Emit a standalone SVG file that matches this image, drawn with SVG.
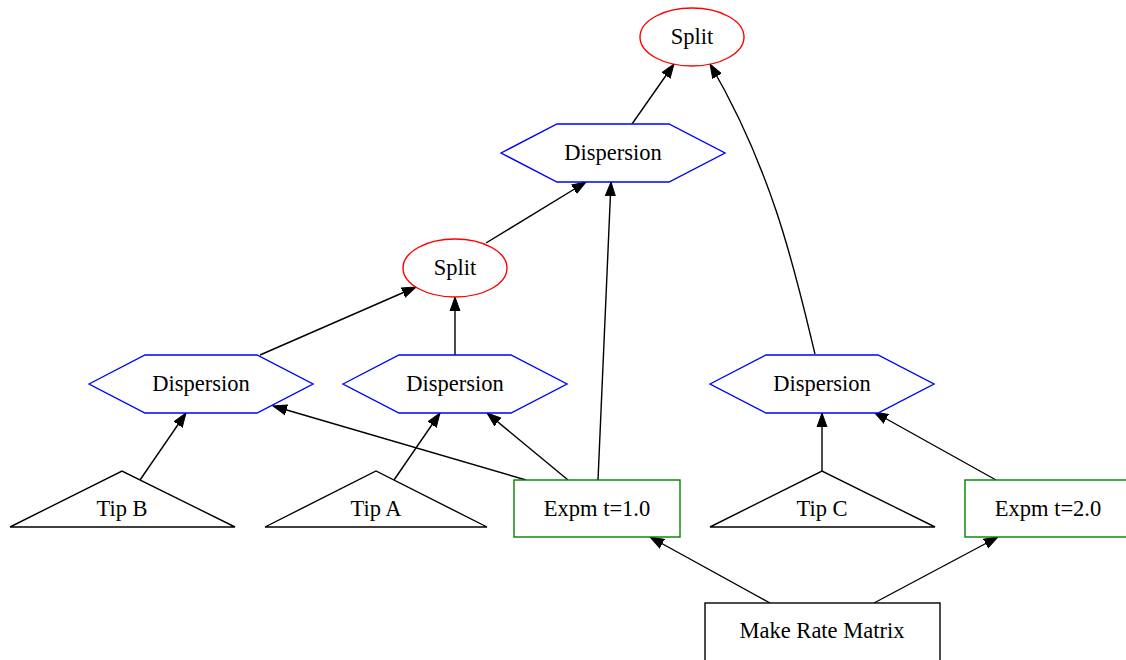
<svg xmlns="http://www.w3.org/2000/svg" width="1126" height="660" viewBox="0 0 1126 660">
<style>
.split{fill:#fff;stroke:#ff0000;stroke-width:1.4}
.disp{fill:#fff;stroke:#0000ff;stroke-width:1.4}
.tip{fill:#fff;stroke:#000;stroke-width:1.4}
.expm{fill:#fff;stroke:#008000;stroke-width:1.4}
.rate{fill:#fff;stroke:#000;stroke-width:1.4}
.edge{fill:none;stroke:#000;stroke-width:1.4;marker-end:url(#ah)}
</style>
<defs>
<marker id="ah" markerUnits="userSpaceOnUse" markerWidth="16" markerHeight="12" refX="14" refY="5" orient="auto" viewBox="0 0 16 10">
<path d="M0,0 L14,5 L0,10 z" fill="#000" stroke="#000" stroke-width="1"/>
</marker>
</defs>
<rect width="1126" height="660" fill="#fff"/>
<g id="edges">
<path class="edge" d="M632,124 L674,64"/>
<path class="edge" d="M486,243 L586,182"/>
<path class="edge" d="M815,354 C797,280 775,175 710,64"/>
<path class="edge" d="M598,480 L611,182"/>
<path class="edge" d="M260,355 L416,287"/>
<path class="edge" d="M455,355 L455,297"/>
<path class="edge" d="M140,480 L186,413"/>
<path class="edge" d="M394,480 L440,413"/>
<path class="edge" d="M526,480 L273,406"/>
<path class="edge" d="M568,480 L487,413"/>
<path class="edge" d="M822,471 L822,413"/>
<path class="edge" d="M996,480 L874,412"/>
<path class="edge" d="M770,603 L650,537"/>
<path class="edge" d="M874,603 L998,537"/>
</g>
<g font-family="'Liberation Serif', 'Times New Roman', 'DejaVu Serif', serif" font-size="22.5" text-anchor="middle" fill="#000">
<g id="split_top">
<ellipse class="split" cx="692" cy="37" rx="52" ry="29"/>
<text x="692" y="44">Split</text>
</g>
<g id="disp_top">
<polygon class="disp" points="501,153 557,124 669,124 725,153 669,182 557,182"/>
<text x="613" y="160">Dispersion</text>
</g>
<g id="split_mid">
<ellipse class="split" cx="455" cy="268" rx="52" ry="29"/>
<text x="455" y="275">Split</text>
</g>
<g id="disp_left">
<polygon class="disp" points="89,384 145,355 257,355 313,384 257,413 145,413"/>
<text x="201" y="391">Dispersion</text>
</g>
<g id="disp_mid">
<polygon class="disp" points="343,384 399,355 511,355 567,384 511,413 399,413"/>
<text x="455" y="391">Dispersion</text>
</g>
<g id="disp_right">
<polygon class="disp" points="710,384 766,355 878,355 934,384 878,413 766,413"/>
<text x="822" y="391">Dispersion</text>
</g>
<g id="tip_b">
<polygon class="tip" points="10,527 122,471 235,527"/>
<text x="122" y="516">Tip B</text>
</g>
<g id="tip_a">
<polygon class="tip" points="265,527 376,471 487,527"/>
<text x="376" y="516">Tip A</text>
</g>
<g id="tip_c">
<polygon class="tip" points="710,527 822,471 935,527"/>
<text x="822" y="516">Tip C</text>
</g>
<g id="expm1">
<rect class="expm" x="514" y="480" width="166" height="57"/>
<text x="597" y="516">Expm t=1.0</text>
</g>
<g id="expm2">
<rect class="expm" x="965" y="480" width="166" height="57"/>
<text x="1048" y="516">Expm t=2.0</text>
</g>
<g id="rate">
<rect class="rate" x="705" y="603" width="235" height="60"/>
<text x="822" y="638">Make Rate Matrix</text>
</g>
</g>
</svg>
